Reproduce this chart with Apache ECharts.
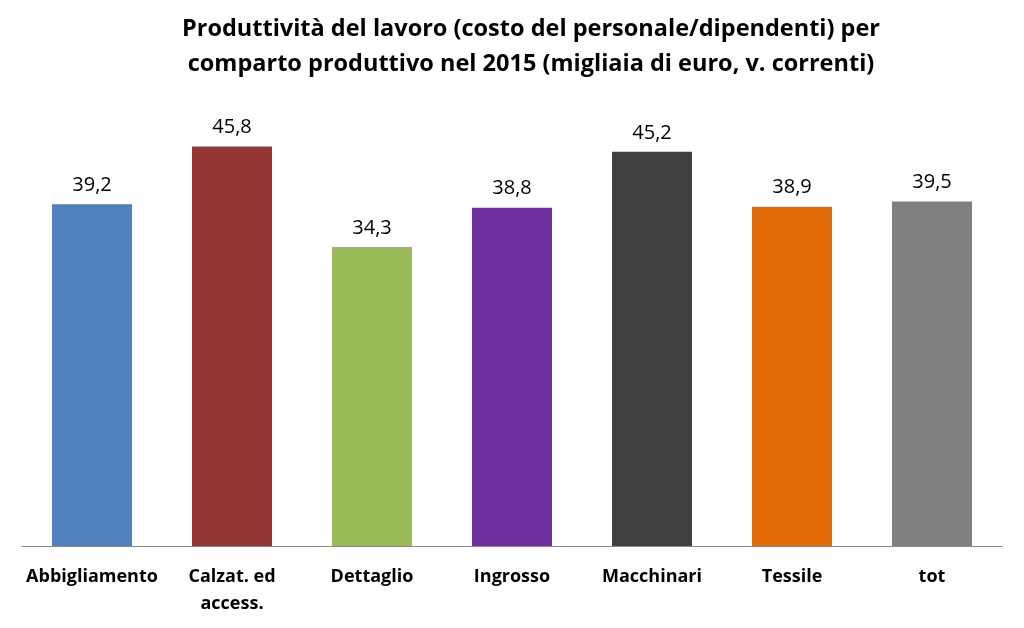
<!DOCTYPE html>
<html><head><meta charset="utf-8">
<script src="https://cdn.jsdelivr.net/npm/echarts@6/dist/echarts.min.js"></script>
<style>html,body{margin:0;padding:0;background:#fff}#c{width:1024px;height:628px}</style>
</head><body><div id="c"></div>
<script>
const categories = ['Abbigliamento', 'Calzat. ed\naccess.', 'Dettaglio', 'Ingrosso', 'Macchinari', 'Tessile', 'tot'];
const values = [39.2, 45.8, 34.3, 38.8, 45.2, 38.9, 39.5];
const colors = ['#4F81BD', '#943634', '#9BBB59', '#7030A0', '#404040', '#E36C09', '#808080'];
const titleText = 'Produttività del lavoro (costo del personale/dipendenti) per\ncomparto produttivo nel 2015 (migliaia di euro, v. correnti)';

const chart = echarts.init(document.getElementById('c'));
chart.setOption({
  backgroundColor: '#fff',
  animation: false,
  title: {
    text: titleText, left: 526, textAlign: 'center', top: 7,
    textStyle: { fontFamily: 'Open Sans', fontWeight: 'bold', fontSize: 23.5, lineHeight: 35, color: '#000' }
  },
  grid: { left: 22, right: 22, top: 110, bottom: 82 },
  xAxis: {
    type: 'category', data: categories,
    axisLine: { lineStyle: { color: '#898989', width: 1 } },
    axisTick: { show: false },
    axisLabel: { interval: 0, color: '#000', fontFamily: 'Open Sans', fontWeight: 'bold', fontSize: 18, lineHeight: 27, margin: 17 }
  },
  yAxis: { type: 'value', min: 0, max: 50, show: false, splitLine: { show: false } },
  series: [{
    type: 'bar', barWidth: 80,
    data: values.map((v, i) => ({ value: v, itemStyle: { color: colors[i] } })),
    label: {
      show: true, position: 'top', distance: 9, color: '#000', fontFamily: 'Open Sans', fontSize: 20,
      formatter: p => p.value.toFixed(1).replace('.', ',')
    }
  }]
});
</script></body></html>
